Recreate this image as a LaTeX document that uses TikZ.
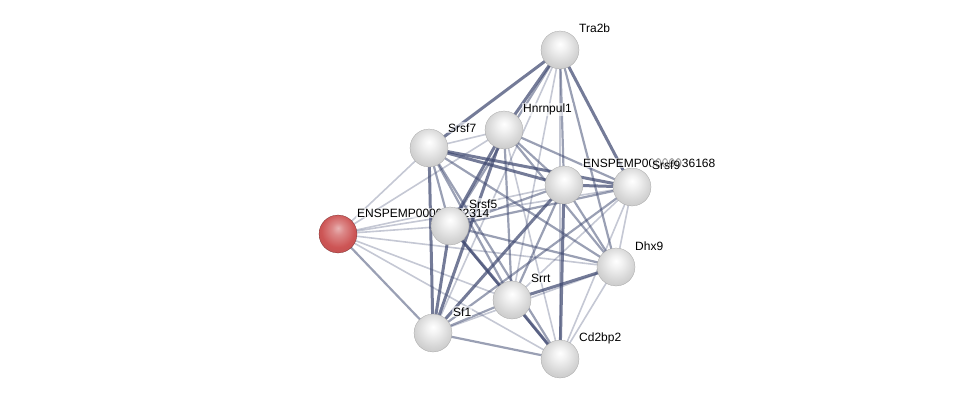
\documentclass[tikz,border=0pt]{standalone}
\usepackage{fontspec}
\setmainfont{Liberation Sans}
\usetikzlibrary{positioning, calc}
\definecolor{edgeblue}{RGB}{62, 72, 112}
\definecolor{queryred}{RGB}{205, 85, 85}
\pgfdeclarelayer{edges}
\pgfsetlayers{edges,main}
\pgfdeclareradialshading{greyball}{\pgfpoint{0bp}{8bp}}{color(0bp)=(white); color(8bp)=(white!95!black); color(22bp)=(white!84!black); color(34bp)=(white!76!black); color(44bp)=(white!62!black); color(52bp)=(white!45!black)}
\pgfdeclareradialshading{redball}{\pgfpoint{0bp}{8bp}}{color(0bp)=(queryred!45!white); color(8bp)=(queryred!70!white); color(22bp)=(queryred); color(34bp)=(queryred!92!black); color(44bp)=(queryred!70!black); color(52bp)=(queryred!50!black)}

\tikzset{
    protein/.style={circle, minimum size=38pt, inner sep=0pt, shading=greyball, draw=gray!80, very thin},
    query/.style={protein, shading=redball, draw=queryred!50!black},
    plabel/.style={anchor=base west, fill=white, fill opacity=0.6, text opacity=1, inner sep=1pt, font=\fontsize{12}{14}\selectfont},
    t/.style={edgeblue, line width=3pt, opacity=0.72},
    m/.style={edgeblue, line width=2.2pt, opacity=0.52},
    l/.style={edgeblue, line width=1.6pt, opacity=0.3}
}

\begin{document}
\begin{tikzpicture}[x=1pt, y=-1pt]
    \useasboundingbox (0,0) rectangle (975,404);

    % Proteins, each with its label
    \node[query] (q) at (338,234) {};
    \node[plabel] at ([shift={(18pt,17pt)}]q.center) {ENSPEMP00000022314};
    \node[protein] (tra2b) at (560,50) {};
    \node[plabel] at ([shift={(18pt,17pt)}]tra2b.center) {Tra2b};
    \node[protein] (srsf7) at (429,148) {};
    \node[plabel] at ([shift={(18pt,16pt)}]srsf7.center) {Srsf7};
    \node[protein] (hnrnpul1) at (504,130) {};
    \node[plabel] at ([shift={(18pt,17pt)}]hnrnpul1.center) {Hnrnpul1};
    \node[protein] (ensp) at (564,185) {};
    \node[plabel] at ([shift={(18pt,18pt)}]ensp.center) {ENSPEMP00000036168};
    \node[protein] (srsf9) at (632,187) {};
    \node[plabel] at ([shift={(19pt,18pt)}]srsf9.center) {Srsf9};
    \node[protein] (srsf5) at (450,226) {};
    \node[plabel] at ([shift={(18pt,18pt)}]srsf5.center) {Srsf5};
    \node[protein] (dhx9) at (616,267) {};
    \node[plabel] at ([shift={(18pt,17pt)}]dhx9.center) {Dhx9};
    \node[protein] (srrt) at (512,300) {};
    \node[plabel] at ([shift={(18pt,18pt)}]srrt.center) {Srrt};
    \node[protein] (sf1) at (433,333) {};
    \node[plabel] at ([shift={(19pt,17pt)}]sf1.center) {Sf1};
    \node[protein] (cd2bp2) at (560,359) {};
    \node[plabel] at ([shift={(18pt,18pt)}]cd2bp2.center) {Cd2bp2};

    % Interactions, under the proteins
    \begin{pgfonlayer}{edges}
    \foreach \a/\b/\w in {q/srsf7/l, q/hnrnpul1/l, q/srsf5/l, q/ensp/l, q/srsf9/l, q/dhx9/l, q/srrt/l, q/sf1/m, q/cd2bp2/l,
        tra2b/srsf7/t, tra2b/hnrnpul1/t, tra2b/srsf5/m, tra2b/ensp/m, tra2b/srsf9/t, tra2b/dhx9/m, tra2b/srrt/l, tra2b/cd2bp2/l, tra2b/sf1/l,
        srsf7/hnrnpul1/l, srsf7/ensp/t, srsf7/srsf9/t, srsf7/srsf5/m, srsf7/sf1/t, srsf7/srrt/m, srsf7/cd2bp2/m, srsf7/dhx9/m,
        hnrnpul1/srsf5/t, hnrnpul1/sf1/t, hnrnpul1/ensp/m, hnrnpul1/srsf9/m, hnrnpul1/dhx9/m, hnrnpul1/srrt/m, hnrnpul1/cd2bp2/l,
        ensp/srsf9/t, ensp/srsf5/m, ensp/sf1/t, ensp/srrt/m, ensp/cd2bp2/t, ensp/dhx9/m,
        srsf9/srsf5/m, srsf9/dhx9/l, srsf9/srrt/l, srsf9/cd2bp2/l, srsf9/sf1/m,
        srsf5/sf1/t, srsf5/srrt/t, srsf5/dhx9/m, srsf5/cd2bp2/m,
        dhx9/srrt/t, dhx9/sf1/l, dhx9/cd2bp2/l,
        srrt/sf1/m, srrt/cd2bp2/t, sf1/cd2bp2/m} {
        \draw[\w] (\a.center) -- (\b.center);
    }
    \end{pgfonlayer}
\end{tikzpicture}
\end{document}
